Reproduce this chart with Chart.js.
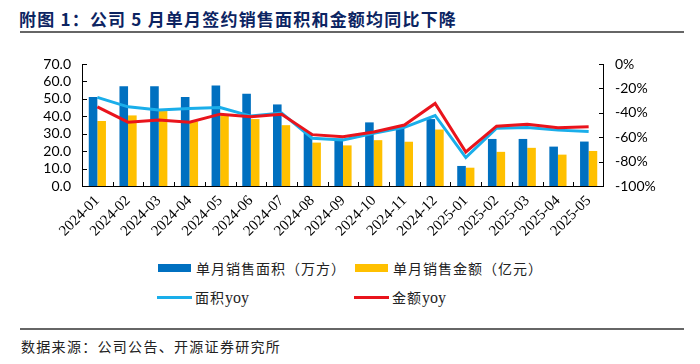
<!DOCTYPE html>
<html>
<head>
<meta charset="utf-8">
<script src="https://cdn.jsdelivr.net/npm/chart.js@4/dist/chart.umd.min.js"></script>
<style>
  html, body { margin: 0; padding: 0; background: #fff; }
  body { width: 700px; height: 364px; position: relative; overflow: hidden; font-family: "Noto Sans CJK SC", sans-serif; }
  .title { position: absolute; left: 19px; top: 6px; font-size: 17px; font-weight: bold; color: #0C2462; letter-spacing: 1.2px; white-space: nowrap; }
  .rule { position: absolute; left: 20px; width: 664px; height: 2px; background: #666; }
  .chart-box { position: absolute; left: 0; top: 40px; width: 700px; height: 215px; }
  .legend { position: absolute; font-size: 14px; color: #222; letter-spacing: 1px; white-space: nowrap; }
  .legend .sw { position: absolute; left: 0; }
  .legend span.txt { position: absolute; left: 38px; top: -10px; }
  .yoy { font-family: "Liberation Serif", serif; font-size: 16px; letter-spacing: 0; }
  .source { position: absolute; left: 21px; top: 336px; font-size: 14px; color: #222; letter-spacing: 1.3px; white-space: nowrap; }
</style>
</head>
<body>
<div class="title">附图 1：公司 5 月单月签约销售面积和金额均同比下降</div>
<div class="rule" style="top:31px;"></div>

<div class="chart-box"><canvas id="mainChart" width="700" height="215"></canvas></div>

<div class="legend" style="left:158px; top:268px;"><div class="sw" style="top:-4px;width:33px;height:8px;background:#0070C0;"></div><span class="txt">单月销售面积（万方）</span></div>
<div class="legend" style="left:355px; top:268px;"><div class="sw" style="top:-4px;width:33px;height:8px;background:#FFC000;"></div><span class="txt">单月销售金额（亿元）</span></div>
<div class="legend" style="left:157px; top:297px;"><div class="sw" style="top:-1.5px;width:35px;height:3px;background:#1AAEEA;"></div><span class="txt">面积<span class="yoy">yoy</span></span></div>
<div class="legend" style="left:354px; top:297px;"><div class="sw" style="top:-1.5px;width:35px;height:3px;background:#E9141C;"></div><span class="txt">金额<span class="yoy">yoy</span></span></div>

<div class="rule" style="top:328px;"></div>
<div class="source">数据来源：公司公告、开源证券研究所</div>

<script>
  var months = ['2024-01', '2024-02', '2024-03', '2024-04', '2024-05', '2024-06', '2024-07', '2024-08', '2024-09',
    '2024-10', '2024-11', '2024-12', '2025-01', '2025-02', '2025-03', '2025-04', '2025-05'];

  // 单月销售面积（万方）
  var areaValues = [51.0, 57.2, 57.2, 51.0, 57.7, 52.9, 46.8, 30.5, 27.2, 36.5, 33.5, 38.4, 11.5, 27.0, 27.0, 22.6, 25.5];
  // 单月销售金额（亿元）
  var amountValues = [37.3, 40.5, 43.0, 37.0, 40.8, 38.4, 34.9, 24.9, 23.3, 26.3, 25.4, 32.4, 10.5, 19.6, 21.9, 18.0, 20.1];
  // 同比（%）
  var areaYoy = [-27.4, -35.1, -37.8, -36.4, -35.6, -42.7, -40.2, -60.9, -62.3, -56.8, -51.9, -42.2, -76.7, -52.6, -52.1, -54.2, -55.3];
  var amountYoy = [-35.1, -47.7, -46.0, -47.7, -41.1, -43.3, -41.2, -57.9, -59.6, -55.7, -50.0, -32.3, -72.1, -51.0, -49.3, -52.3, -51.5];

  var leftTicks = [0, 10, 20, 30, 40, 50, 60, 70];
  var rightTicks = [-100, -80, -60, -40, -20, 0];

  var tickFont = { family: 'Lato, "Liberation Sans", sans-serif', size: 14 };

  // axis lines and inward tick marks
  var axisPlugin = {
    id: 'axisLines',
    afterDatasetsDraw: function (chart) {
      var ctx = chart.ctx;
      var a = chart.chartArea;
      var x = chart.scales.x, yL = chart.scales.yL, yR = chart.scales.yR;
      ctx.save();
      ctx.strokeStyle = '#000';
      ctx.lineWidth = 1;
      ctx.beginPath();
      ctx.moveTo(a.left + 0.5, a.top);
      ctx.lineTo(a.left + 0.5, a.bottom + 0.5);
      ctx.lineTo(a.right - 0.5, a.bottom + 0.5);
      ctx.lineTo(a.right - 0.5, a.top);
      leftTicks.forEach(function (v) {
        var py = Math.round(yL.getPixelForValue(v)) + 0.5;
        ctx.moveTo(a.left, py); ctx.lineTo(a.left + 5, py);
      });
      rightTicks.forEach(function (v) {
        var py = Math.round(yR.getPixelForValue(v)) + 0.5;
        ctx.moveTo(a.right, py); ctx.lineTo(a.right - 5, py);
      });
      var step = (x.right - x.left) / months.length;
      for (var i = 1; i < months.length; i++) {
        var px = Math.round(x.left + step * i) + 0.5;
        ctx.moveTo(px, a.bottom); ctx.lineTo(px, a.bottom - 4);
      }
      ctx.stroke();
      ctx.restore();
    }
  };

  var ctx = document.getElementById('mainChart').getContext('2d');
  new Chart(ctx, {
    type: 'bar',
    data: {
      labels: months,
      datasets: [
        {
          type: 'line', label: '金额yoy', data: amountYoy, yAxisID: 'yR', order: 0,
          borderColor: '#E9141C', borderWidth: 3, pointRadius: 0, tension: 0, fill: false
        },
        {
          type: 'line', label: '面积yoy', data: areaYoy, yAxisID: 'yR', order: 1,
          borderColor: '#1AAEEA', borderWidth: 3, pointRadius: 0, tension: 0, fill: false
        },
        {
          label: '单月销售面积（万方）', data: areaValues, yAxisID: 'yL', order: 2,
          backgroundColor: '#0070C0', barPercentage: 1, categoryPercentage: 0.56
        },
        {
          label: '单月销售金额（亿元）', data: amountValues, yAxisID: 'yL', order: 3,
          backgroundColor: '#FFC000', barPercentage: 1, categoryPercentage: 0.56
        }
      ]
    },
    options: {
      responsive: false,
      animation: false,
      layout: { padding: { top: 24, left: 0, right: 0, bottom: 0 } },
      plugins: {
        legend: { display: false },
        tooltip: { enabled: false }
      },
      scales: {
        x: {
          grid: { display: false, drawTicks: false },
          border: { display: false },
          ticks: {
            color: '#000', maxRotation: 45, minRotation: 45, padding: 6, autoSkip: false,
            font: { family: '"Liberation Serif", serif', size: 15 }
          },
          afterFit: function (s) { s.height = 69; }
        },
        yL: {
          position: 'left', min: 0, max: 70,
          grid: { display: false, drawTicks: false },
          border: { display: false },
          ticks: {
            stepSize: 10, autoSkip: false, color: '#000', padding: 11, font: tickFont,
            callback: function (v) { return v.toFixed(1); }
          },
          afterFit: function (s) { s.width = 82; }
        },
        yR: {
          position: 'right', min: -100, max: 0,
          grid: { display: false, drawTicks: false },
          border: { display: false },
          ticks: {
            stepSize: 20, autoSkip: false, color: '#000', padding: 11, font: tickFont,
            callback: function (v) { return v + '%'; }
          },
          afterFit: function (s) { s.width = 96; }
        }
      }
    },
    plugins: [axisPlugin]
  });
</script>
</body>
</html>
